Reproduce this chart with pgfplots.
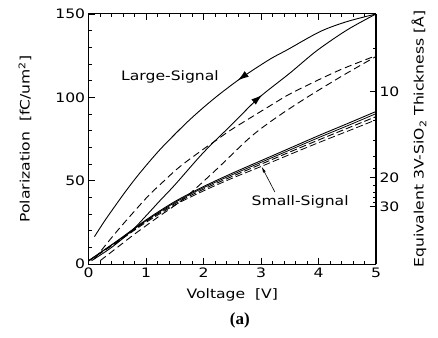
\documentclass[border=0pt]{standalone}
\usepackage{fontspec}
\setmainfont{DejaVu Sans}[FakeStretch=1.2]
\newfontfamily\serifbold{Liberation Serif Bold}
\usepackage{pgfplots}
\pgfplotsset{compat=1.18}
\usetikzlibrary{calc,decorations.markings,arrows.meta}

% Large-signal, upper branch (listed from 5 V down)
\pgfplotstableread{
V P
5.00 150.0
4.50 145.5
4.03 139.5
3.45 128.4
3.16 123.0
2.69 112.5
2.30 102.5
2.00 94.0
1.68 84.0
1.25 69.0
0.90 55.0
0.63 43.0
0.30 27.0
0.10 16.4
}\tabUpper
% Large-signal, lower branch
\pgfplotstableread{
V P
0.05 2.0
0.40 10.0
0.75 20.0
1.00 29.0
1.24 38.0
1.50 47.5
2.00 67.0
2.50 84.0
2.95 99.4
3.50 114.5
3.97 128.0
4.50 140.5
5.00 150.0
}\tabLower
% dashed loop
\pgfplotstableread{
V P
0.10 3.0
0.17 6.0
0.50 20.0
1.00 39.5
1.30 49.5
1.59 58.5
2.00 69.0
2.23 74.5
2.50 81.0
3.16 95.0
3.50 102.0
4.00 110.5
4.37 116.4
4.70 121.0
5.00 125.0
}\tabDashUp
\pgfplotstableread{
V P
0.20 2.0
0.50 10.0
0.80 18.0
1.20 28.0
1.65 39.0
2.20 56.0
2.81 76.0
3.27 88.0
3.80 100.0
4.37 112.0
4.72 119.0
5.00 124.5
}\tabDashLo
% small-signal curves
\pgfplotstableread{
V A B C D
0.0 2.0 2.0 2.0 1.8
0.5 14.0 13.8 13.5 13.2
1.0 26.5 26.0 25.6 25.0
1.5 37.5 36.9 36.2 35.4
2.0 46.5 45.8 44.9 43.9
2.5 54.5 53.6 52.6 51.5
3.0 62.0 61.0 59.9 58.5
3.5 69.5 68.4 67.2 65.7
4.0 77.0 75.8 74.4 72.8
4.5 84.2 82.9 81.4 79.6
5.0 91.5 90.2 88.4 86.5
}\tabSmall

\begin{document}
\begin{tikzpicture}
\pgfplotsset{
  common/.style={
    scale only axis, width=287.3pt, height=250pt,
    xmin=0, xmax=5, ymin=0, ymax=150,
    tick align=inside,
    major tick length=6pt, minor tick length=3.5pt,
    every tick/.style={black, line width=0.8pt},
    every minor tick/.style={black, line width=0.7pt},
    tick label style={font=\fontsize{13}{13}\selectfont},
    /pgf/number format/assume math mode=true,
    axis line style={line width=1pt},
  }
}
\begin{axis}[common, name=ax, clip=false,
  xtick={0,1,2,3,4,5}, minor x tick num=4,
  ytick={0,50,100,150}, minor y tick num=4,
  ytick pos=left,
]
\addplot[black, line width=0.9pt, smooth,
  postaction={decorate},
  decoration={markings, mark=at position 0.42 with {\arrow{Latex[length=11pt,width=7pt]}}}]
  table[x=V,y=P] {\tabUpper};
\addplot[black, line width=0.9pt, smooth,
  postaction={decorate},
  decoration={markings, mark=at position 0.63 with {\arrow{Latex[length=11pt,width=7pt]}}}]
  table[x=V,y=P] {\tabLower};
\addplot[black, line width=0.9pt, smooth, dash pattern=on 7pt off 4pt] table[x=V,y=P] {\tabDashUp};
\addplot[black, line width=0.9pt, smooth, dash pattern=on 7pt off 4pt] table[x=V,y=P] {\tabDashLo};
\addplot[black, line width=0.9pt, smooth] table[x=V,y=A] {\tabSmall};
\addplot[black, line width=0.8pt, smooth] table[x=V,y=B] {\tabSmall};
\addplot[black, line width=0.9pt, smooth, dash pattern=on 7pt off 3pt] table[x=V,y=C] {\tabSmall};
\addplot[black, line width=0.8pt, smooth, dash pattern=on 7pt off 3pt] table[x=V,y=D] {\tabSmall};

\draw[black, line width=0.6pt, -{Latex[length=6pt,width=3pt]}] (axis cs:3.24,43.2) -- (axis cs:3.01,58.4);
\node[font=\fontsize{13}{13}\selectfont] at (axis cs:1.414,112.2) {Large-Signal};
\node[font=\fontsize{13}{13}\selectfont] at (axis cs:3.68,37.2) {Small-Signal};
\node[font=\fontsize{13}{13}\selectfont] at (axis cs:2.5,-18.6) {Voltage\ \ [V]};
\node[font=\fontsize{13}{13}\selectfont, rotate=90] at (axis cs:-1.109,75) {Polarization\ \ [fC/um\textsuperscript{2}]};
\node[font=\fontsize{13}{13}\selectfont, rotate=90] at (axis cs:5.748,75) {Equivalent 3V-SiO\textsubscript{2} Thickness [Å]};
\node[font={\serifbold\fontsize{17}{17}\selectfont}] at (axis cs:2.63,-33.6) {(a)};
\end{axis}
\begin{axis}[common,
  axis x line=none, axis y line*=right,
  ytick={103.6,51.8,34.53}, yticklabels={10,20,30},
  minor ytick={129.5,86.33,74,64.75,57.56,47.09,43.17,39.85,37},
]
\end{axis}
\pgfresetboundingbox
\path ($(ax.south west)+(-88.7pt,-73pt)$) rectangle ($(ax.north east)+(62pt,14pt)$);
\end{tikzpicture}
\end{document}
